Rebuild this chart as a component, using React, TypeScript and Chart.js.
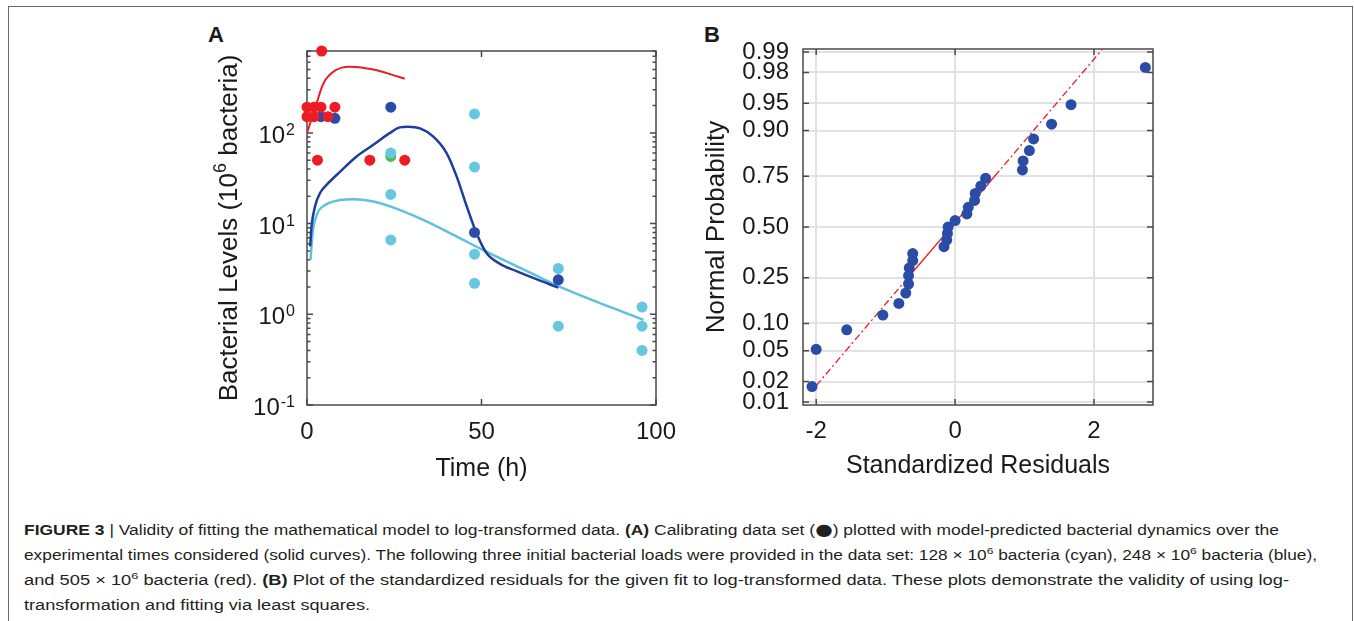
import React, { useEffect, useLayoutEffect, useRef } from 'react';
import { Chart, registerables } from 'chart.js';

Chart.register(...registerables);

const FONT = '"Liberation Sans", Arial, Helvetica, sans-serif';
const TEXT = '#1a1a1a';
const AXIS = '#4a4a4a';
const RED = '#ed1c24';
const BLUE_PT = '#2a4ca6';
const BLUE_LINE = '#1f3d9c';
const CYAN_PT = '#66c8e0';
const CYAN_LINE = '#5cc3dd';
const GREEN = '#58b947';

// ---------- Panel A data ----------
const xTicksA = [0, 50, 100];
const yTicksA = [0.1, 1, 10, 100];
const yTickExpA = ['-1', '0', '1', '2'];
const yMinorA = [0.2, 0.3, 0.4, 0.5, 0.6, 0.7, 0.8, 0.9, 2, 3, 4, 5, 6, 7, 8, 9, 20, 30, 40, 50, 60, 70, 80, 90, 200, 300, 400, 500, 600, 700, 800];

const redCurveT = [0, 1, 2, 3, 4, 5, 6, 8, 10, 12, 14, 16, 20, 24, 28];
const redCurveV = [100, 131, 173, 227, 300, 368, 417, 486, 525, 538, 533, 522, 490, 442, 395];

const blueCurveT = [0.9, 1.3, 2.3, 3.7, 5.6, 9.5, 14.2, 19, 23.8, 26.6, 29, 32.4, 36.2, 40, 42.9, 45.8, 48.6, 51.5, 55.3, 60, 65, 72];
const blueCurveV = [5.6, 9.3, 15.5, 21.6, 26.7, 37.4, 55, 74, 100, 115, 117, 112, 91, 60, 33, 15.4, 7.8, 4.7, 3.6, 3.0, 2.5, 1.97];

const cyanCurveT = [1, 1.6, 2.8, 5.2, 9.5, 13.3, 19, 23.8, 33.3, 42.9, 50.5, 60, 65, 72, 96.4];
const cyanCurveV = [4.0, 7.8, 12.5, 16, 18.2, 18.6, 17.5, 15.5, 11.0, 7.2, 5.1, 3.4, 2.75, 2.05, 0.867];

const redPtsT = [0, 2, 4, 8, 0, 2, 6, 4.2, 3, 18, 28];
const redPtsV = [192, 192, 192, 192, 151, 151, 151, 800, 50, 50, 50];
const bluePtsT = [4, 8, 24, 48, 72];
const bluePtsV = [151, 145, 192, 8.0, 2.4];
const cyanPtsT = [24, 24, 24, 48, 48, 48, 48, 72, 72, 96, 96, 96];
const cyanPtsV = [60, 21, 6.6, 162, 42, 4.6, 2.2, 3.2, 0.74, 1.2, 0.74, 0.4];
const greenPtsT = [24];
const greenPtsV = [55];

// ---------- Panel B data ----------
const xTicksB = [-2, 0, 2];
const yTickProbB = [0.01, 0.02, 0.05, 0.1, 0.25, 0.5, 0.75, 0.9, 0.95, 0.98, 0.99];
const yTickLabelsB = ['0.01', '0.02', '0.05', '0.10', '0.25', '0.50', '0.75', '0.90', '0.95', '0.98', '0.99'];

const residuals = [-2.06, -2.0, -1.56, -1.04, -0.81, -0.71, -0.67, -0.67, -0.66, -0.61, -0.61, -0.16, -0.12, -0.11, -0.1, 0.0, 0.17, 0.19, 0.28, 0.29, 0.37, 0.44, 0.97, 0.98, 1.07, 1.13, 1.39, 1.67, 2.74];
const residualProbs = [0.017, 0.052, 0.086, 0.121, 0.155, 0.19, 0.224, 0.259, 0.293, 0.328, 0.362, 0.397, 0.431, 0.466, 0.5, 0.534, 0.569, 0.603, 0.638, 0.672, 0.707, 0.741, 0.776, 0.81, 0.845, 0.879, 0.914, 0.948, 0.983];
const refLineX = [-2.0, -0.68, 0.57, 2.74];
const refLineP = [0.0175, 0.25, 0.75, 0.9988];

// inverse standard normal CDF (probability-paper axis transform)
function probit(p: number): number {
  const a = [-39.69683028665376, 220.9460984245205, -275.9285104469687, 138.357751867269, -30.66479806614716, 2.506628277459239];
  const b = [-54.47609879822406, 161.5858368580409, -155.6989798598866, 66.80131188771972, -13.28068155288572];
  const c = [-0.007784894002430293, -0.3223964580411365, -2.400758277161838, -2.549732539343734, 4.374664141464968, 2.938163982698783];
  const d = [0.007784695709041462, 0.3224671290700398, 2.445134137142996, 3.754408661907416];
  const pl = 0.02425;
  if (p < pl) {
    const q = Math.sqrt(-2 * Math.log(p));
    return (((((c[0] * q + c[1]) * q + c[2]) * q + c[3]) * q + c[4]) * q + c[5]) / ((((d[0] * q + d[1]) * q + d[2]) * q + d[3]) * q + 1);
  }
  if (p <= 1 - pl) {
    const q = p - 0.5;
    const r = q * q;
    return ((((((a[0] * r + a[1]) * r + a[2]) * r + a[3]) * r + a[4]) * r + a[5]) * q) / (((((b[0] * r + b[1]) * r + b[2]) * r + b[3]) * r + b[4]) * r + 1);
  }
  const q = Math.sqrt(-2 * Math.log(1 - p));
  return -(((((c[0] * q + c[1]) * q + c[2]) * q + c[3]) * q + c[4]) * q + c[5]) / ((((d[0] * q + d[1]) * q + d[2]) * q + d[3]) * q + 1);
}

function pts(xs: number[], ys: number[], fy?: (v: number) => number) {
  return xs.map((x, i) => ({ x, y: fy ? fy(ys[i]) : ys[i] }));
}

function makeBoxPlugin(xT: number[], yT: number[], yMinor: number[]) {
  return {
    id: 'boxTicks',
    beforeDatasetsDraw(chart: any) {
      const { ctx, chartArea: a, scales } = chart;
      const xs = scales.x;
      const ys = scales.y;
      ctx.save();
      ctx.strokeStyle = AXIS;
      ctx.lineWidth = 1.5;
      ctx.strokeRect(a.left, a.top, a.right - a.left, a.bottom - a.top);
      ctx.beginPath();
      const L = 6;
      const Lm = 3.5;
      xT.forEach((v) => {
        const p = xs.getPixelForValue(v);
        ctx.moveTo(p, a.bottom); ctx.lineTo(p, a.bottom - L);
        ctx.moveTo(p, a.top); ctx.lineTo(p, a.top + L);
      });
      yT.forEach((v) => {
        const p = ys.getPixelForValue(v);
        ctx.moveTo(a.left, p); ctx.lineTo(a.left + L, p);
        ctx.moveTo(a.right, p); ctx.lineTo(a.right - L, p);
      });
      yMinor.forEach((v) => {
        const p = ys.getPixelForValue(v);
        ctx.moveTo(a.left, p); ctx.lineTo(a.left + Lm, p);
        ctx.moveTo(a.right, p); ctx.lineTo(a.right - Lm, p);
      });
      ctx.stroke();
      ctx.restore();
    },
  };
}

const powerLabelsPlugin = {
  id: 'powLabels',
  afterDraw(chart: any) {
    const { ctx, chartArea: a, scales } = chart;
    const y = scales.y;
    ctx.save();
    ctx.fillStyle = TEXT;
    ctx.textBaseline = 'alphabetic';
    ctx.textAlign = 'right';
    yTicksA.forEach((v, i) => {
      const py = y.getPixelForValue(v);
      const right = a.left - 12;
      ctx.font = `16px ${FONT}`;
      const exp = yTickExpA[i];
      const ew = ctx.measureText(exp).width;
      ctx.fillText(exp, right, py + 2);
      ctx.font = `24px ${FONT}`;
      ctx.fillText('10', right - ew - 1, py + 10);
    });
    // rotated y title with superscript
    const parts = [
      { t: 'Bacterial Levels (10', s: 26, dy: 0 },
      { t: '6', s: 18, dy: -11 },
      { t: ' bacteria)', s: 26, dy: 0 },
    ];
    ctx.textAlign = 'left';
    let total = 0;
    const widths = parts.map((p) => {
      ctx.font = `${p.s}px ${FONT}`;
      const w = ctx.measureText(p.t).width;
      total += w;
      return w;
    });
    ctx.translate(27, (a.top + a.bottom) / 2);
    ctx.rotate(-Math.PI / 2);
    let x = -total / 2;
    parts.forEach((p, i) => {
      ctx.font = `${p.s}px ${FONT}`;
      ctx.fillText(p.t, x, 9.5 + p.dy);
      x += widths[i];
    });
    ctx.restore();
  },
};

function PanelA() {
  const ref = useRef<HTMLCanvasElement>(null);
  useEffect(() => {
    if (!ref.current) return;
    const pointDs = (xs: number[], ys: number[], color: string, order: number) => ({
      type: 'scatter' as const,
      data: pts(xs, ys),
      backgroundColor: color,
      borderWidth: 0,
      pointRadius: 5.5,
      clip: false as any,
      order,
    });
    const lineDs = (xs: number[], ys: number[], color: string, width: number, order: number) => ({
      type: 'line' as const,
      data: pts(xs, ys),
      borderColor: color,
      borderWidth: width,
      pointRadius: 0,
      fill: false,
      cubicInterpolationMode: 'monotone' as const,
      order,
    });
    const chart = new Chart(ref.current, {
      type: 'scatter',
      data: {
        datasets: [
          pointDs(redPtsT, redPtsV, RED, 0),
          pointDs(bluePtsT, bluePtsV, BLUE_PT, 1),
          pointDs(cyanPtsT, cyanPtsV, CYAN_PT, 2),
          pointDs(greenPtsT, greenPtsV, GREEN, 3),
          lineDs(blueCurveT, blueCurveV, BLUE_LINE, 2.5, 4),
          lineDs(cyanCurveT, cyanCurveV, CYAN_LINE, 2.5, 5),
          lineDs(redCurveT, redCurveV, RED, 2, 6),
        ] as any,
      },
      options: {
        responsive: false,
        animation: false,
        devicePixelRatio: 1,
        layout: { padding: { left: 0, right: 34, top: 31, bottom: 0 } },
        plugins: { legend: { display: false }, tooltip: { enabled: false } },
        scales: {
          x: {
            type: 'linear',
            min: 0,
            max: 100,
            afterBuildTicks: (s: any) => { s.ticks = xTicksA.map((v) => ({ value: v })); },
            grid: { display: false, drawTicks: false },
            border: { display: false },
            ticks: { font: { family: FONT, size: 24 }, color: TEXT, padding: 13, maxRotation: 0, autoSkip: false, callback: (v: any) => String(v) },
            title: { display: true, text: 'Time (h)', font: { family: FONT, size: 25 }, color: TEXT, padding: { top: 0, bottom: 6 } },
            afterFit: (s: any) => { s.height = 85; },
          },
          y: {
            type: 'logarithmic',
            min: 0.1,
            max: 800,
            grid: { display: false, drawTicks: false },
            border: { display: false },
            ticks: { display: false },
            afterFit: (s: any) => { s.width = 107; },
          },
        },
      } as any,
      plugins: [makeBoxPlugin(xTicksA, yTicksA, yMinorA), powerLabelsPlugin],
    });
    return () => chart.destroy();
  }, []);
  return <canvas ref={ref} width={490} height={470} style={{ position: 'absolute', left: 200, top: 20, width: 490, height: 470 }} />;
}

function PanelB() {
  const ref = useRef<HTMLCanvasElement>(null);
  useEffect(() => {
    if (!ref.current) return;
    const yTickZ = yTickProbB.map(probit);
    const chart = new Chart(ref.current, {
      type: 'scatter',
      data: {
        datasets: [
          {
            type: 'scatter',
            data: pts(residuals, residualProbs, probit),
            backgroundColor: BLUE_PT,
            borderWidth: 0,
            pointRadius: 5.5,
            clip: false,
            order: 0,
          },
          {
            type: 'line',
            data: pts(refLineX, refLineP, probit),
            borderColor: RED,
            borderWidth: 1.3,
            pointRadius: 0,
            fill: false,
            tension: 0,
            borderDash: [7, 3, 2, 3],
            segment: { borderDash: (c: any) => (c.p0DataIndex === 1 ? [] : [7, 3, 2, 3]) },
            order: 1,
          },
        ] as any,
      },
      options: {
        responsive: false,
        animation: false,
        devicePixelRatio: 1,
        layout: { padding: { left: 0, right: 27, top: 29, bottom: 0 } },
        plugins: { legend: { display: false }, tooltip: { enabled: false } },
        scales: {
          x: {
            type: 'linear',
            min: -2.19,
            max: 2.85,
            afterBuildTicks: (s: any) => { s.ticks = xTicksB.map((v) => ({ value: v })); },
            grid: { color: '#e2e2e2', lineWidth: 2, drawTicks: false },
            border: { display: false },
            ticks: { font: { family: FONT, size: 24 }, color: TEXT, padding: 12, maxRotation: 0, autoSkip: false, callback: (v: any) => String(v) },
            title: { display: true, text: 'Standardized Residuals', font: { family: FONT, size: 25 }, color: TEXT, padding: { top: 0, bottom: 9 } },
            afterFit: (s: any) => { s.height = 85; },
          },
          y: {
            type: 'linear',
            min: probit(0.009),
            max: probit(0.991),
            afterBuildTicks: (s: any) => { s.ticks = yTickZ.map((v) => ({ value: v })); },
            grid: { color: '#e2e2e2', lineWidth: 2, drawTicks: false },
            border: { display: false },
            ticks: { font: { family: FONT, size: 24 }, color: TEXT, padding: 14, autoSkip: false, callback: (_v: any, i: number) => yTickLabelsB[i] },
            title: { display: true, text: 'Normal Probability', font: { family: FONT, size: 26 }, color: TEXT, padding: { top: 11, bottom: 0 } },
            afterFit: (s: any) => { s.width = 113; },
          },
        },
      } as any,
      plugins: [makeBoxPlugin(xTicksB, yTickZ, [])],
    });
    return () => chart.destroy();
  }, []);
  return <canvas ref={ref} width={490} height={470} style={{ position: 'absolute', left: 690, top: 20, width: 490, height: 470 }} />;
}

function FitLine({ width, top, children }: { width: number; top: number; children: React.ReactNode }) {
  const ref = useRef<HTMLSpanElement>(null);
  useLayoutEffect(() => {
    const fit = () => {
      const el = ref.current;
      if (!el) return;
      el.style.transform = 'none';
      const w = el.getBoundingClientRect().width;
      if (w > 0) el.style.transform = `scaleX(${width / w})`;
    };
    fit();
    if ((document as any).fonts && (document as any).fonts.ready) (document as any).fonts.ready.then(fit);
  }, [width]);
  return (
    <div style={{ position: 'absolute', left: 24, top, height: 25, lineHeight: '25px', whiteSpace: 'nowrap' }}>
      <span ref={ref} style={{ display: 'inline-block', transformOrigin: '0 50%' }}>{children}</span>
    </div>
  );
}

const supStyle: React.CSSProperties = { fontSize: '0.7em', verticalAlign: 'super', lineHeight: 0 };
const dotStyle: React.CSSProperties = { fontFamily: '"DejaVu Sans", sans-serif', fontSize: '1.15em', lineHeight: 0 };

export default function App() {
  return (
    <div style={{ position: 'absolute', left: 0, top: 0, width: 1354, height: 621, overflow: 'hidden', background: '#fff', fontFamily: FONT, color: TEXT }}>
      <div style={{ position: 'absolute', left: 8, top: 6, width: 1343, height: 620, borderTop: '1px solid #6a6a6a', borderLeft: '1px solid #6a6a6a', borderRight: '1px solid #6a6a6a' }} />
      <div style={{ position: 'absolute', left: 208, top: 24, fontSize: 22, lineHeight: 1, fontWeight: 'bold' }}>A</div>
      <div style={{ position: 'absolute', left: 704, top: 24, fontSize: 22, lineHeight: 1, fontWeight: 'bold' }}>B</div>
      <PanelA />
      <PanelB />
      <div style={{ fontSize: 14, color: '#231f20' }}>
        <FitLine width={1255} top={518}>
          <b>FIGURE 3</b> | Validity of fitting the mathematical model to log-transformed data. <b>(A)</b> Calibrating data set (<span style={dotStyle}>●</span>) plotted with model-predicted bacterial dynamics over the
        </FitLine>
        <FitLine width={1293} top={543}>
          experimental times considered (solid curves). The following three initial bacterial loads were provided in the data set: 128 × 10<span style={supStyle}>6</span> bacteria (cyan), 248 × 10<span style={supStyle}>6</span> bacteria (blue),
        </FitLine>
        <FitLine width={1265} top={568}>
          and 505 × 10<span style={supStyle}>6</span> bacteria (red). <b>(B)</b> Plot of the standardized residuals for the given fit to log-transformed data. These plots demonstrate the validity of using log-
        </FitLine>
        <FitLine width={346} top={593}>
          transformation and fitting via least squares.
        </FitLine>
      </div>
    </div>
  );
}
